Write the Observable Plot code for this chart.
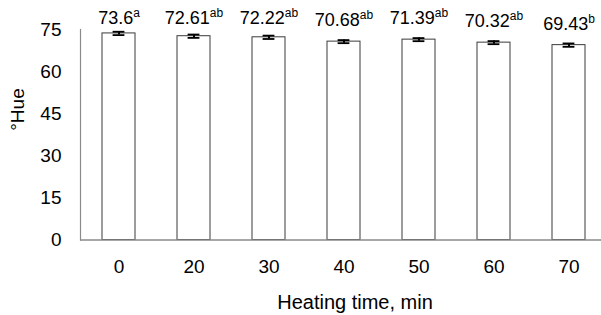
<!DOCTYPE html>
<html><head><meta charset="utf-8">
<script src="https://cdn.jsdelivr.net/npm/d3@7"></script>
<script src="https://cdn.jsdelivr.net/npm/@observablehq/plot@0.6"></script>
<style>
body{margin:0;background:#fff}
#chart svg{font-family:"Liberation Sans",Arial,sans-serif}
</style>
</head><body><div id="chart"></div>
<script>
const times = ["0", "20", "30", "40", "50", "60", "70"];
const hue = [73.6, 72.61, 72.22, 70.68, 71.39, 70.32, 69.43];
const errs = [0.6, 0.6, 0.6, 0.55, 0.55, 0.55, 0.6];
const letters = ["a", "ab", "ab", "ab", "ab", "ab", "b"];
const yTicks = [0, 15, 30, 45, 60, 75];
const xLabel = "Heating time, min";
const yLabel = "°Hue";

const data = times.map((t, i) => ({time: t, hue: hue[i], err: errs[i], letter: letters[i]}));

const chart = Plot.plot({
  width: 601, height: 315,
  marginLeft: 80, marginRight: 0, marginTop: 29, marginBottom: 75.5,
  style: {fontFamily: '"Liberation Sans", Arial, sans-serif', fontSize: "19px", color: "#000", background: "#fff", overflow: "visible"},
  x: {domain: times, range: [80, 607], paddingInner: 0.557, paddingOuter: 0.2785, axis: null},
  y: {domain: [0, 75], axis: null},
  marks: [
    Plot.barY(data, {x: "time", y: "hue", fill: "white", stroke: "#3a3a3a", strokeWidth: 1}),
    Plot.ruleX(data, {x: "time", y1: d => d.hue - d.err, y2: d => d.hue + d.err, stroke: "#000", strokeWidth: 2}),
    Plot.tickY(data, {x: "time", y: d => d.hue + d.err, insetLeft: 10.6, insetRight: 10.6, stroke: "#000", strokeWidth: 1.8}),
    Plot.tickY(data, {x: "time", y: d => d.hue - d.err, insetLeft: 10.6, insetRight: 10.6, stroke: "#000", strokeWidth: 1.8}),
    Plot.ruleY([0], {stroke: "#8a8a8a", strokeWidth: 1.5}),
    Plot.axisY({ticks: yTicks, tickSize: 0, tickPadding: 19, label: null, fontSize: 19}),
    Plot.axisX({tickSize: 0, tickPadding: 19, label: null, fontSize: 19}),
    Plot.frame({anchor: "left", stroke: "#8a8a8a", strokeWidth: 1.2}),
    Plot.text(data, {x: "time", y: d => Math.min(d.hue, 71.4), text: d => d.hue + "|" + d.letter, dy: -21, fontSize: 18, lineAnchor: "middle"}),
    Plot.text([xLabel], {frameAnchor: "bottom", text: d => d, dx: 14, dy: 62.5, fontSize: 20, lineAnchor: "middle"}),
    Plot.text([yLabel], {frameAnchor: "left", text: d => d, dx: -63, dy: -4, rotate: -90, fontSize: 19, lineAnchor: "middle"})
  ]
});

d3.select(chart).selectAll("text").each(function() {
  const t = this.textContent;
  if (t.includes("|")) {
    const [num, sup] = t.split("|");
    this.textContent = num;
    d3.select(this).append("tspan").attr("font-size", 12).attr("dy", -7).text(sup);
  }
});

document.getElementById("chart").appendChild(chart);
</script>
</body></html>
